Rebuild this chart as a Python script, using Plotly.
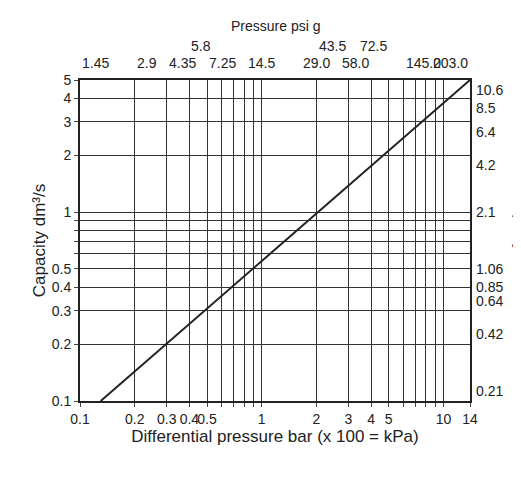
import math
import plotly.graph_objects as go

line_x = [0.13, 14]
line_y = [0.1, 5]
x_grid = [0.1,0.2,0.3,0.4,0.5,0.6,0.7,0.8,0.9,1,2,3,4,5,6,7,8,9,10,14]
x_labels = {0.1:"0.1",0.2:"0.2",0.3:"0.3",0.4:"0.4",0.5:"0.5",1:"1",2:"2",3:"3",4:"4",5:"5",10:"10",14:"14"}
y_grid = [0.1,0.2,0.3,0.4,0.5,0.6,0.7,0.8,0.9,1,2,3,4,5]
y_labels = {0.1:"0.1",0.2:"0.2",0.3:"0.3",0.4:"0.4",0.5:"0.5",1:"1",2:"2",3:"3",4:"4",5:"5"}
top_x = [0.1,0.2,0.3,0.4,0.5,1,2,3,4,5,10,14]
top_text = ["1.45","2.9","4.35","5.8","7.25","14.5","29.0","43.5","58.0","72.5","145.0","203.0"]
top_raised = [False,False,False,True,False,False,False,True,False,True,False,False]
right_y = [5,4,3,2,1,0.5,0.4,0.3,0.2,0.1]
right_text = ["10.6","8.5","6.4","4.2","2.1","1.06","0.85","0.64","0.42","0.21"]

XR = [-1, math.log10(14)]
YR = [-1, math.log10(5)]
font = dict(family="Liberation Sans, Arial", size=14, color="#222")
fig = go.Figure()
fig.add_trace(go.Scatter(x=line_x, y=line_y, mode="lines", line=dict(color="#222", width=2), showlegend=False))
fig.update_xaxes(type="log", range=XR, tickvals=x_grid, tickangle=0, automargin=False,
                 ticktext=[x_labels.get(v, "") for v in x_grid],
                 showgrid=True, gridcolor="#333", gridwidth=1, ticks="outside", ticklen=4,
                 showline=True, linecolor="#222", linewidth=2, mirror=True,
                 title=dict(text="Differential pressure bar (x 100 = kPa)", standoff=2), tickfont=font)
fig.update_yaxes(type="log", range=YR, tickvals=y_grid, automargin=False,
                 ticktext=[y_labels.get(v, "") for v in y_grid],
                 showgrid=True, gridcolor="#333", gridwidth=1, ticks="outside", ticklen=4,
                 showline=True, linecolor="#222", linewidth=2, mirror=True,
                 title=dict(text="Capacity dm³/s", standoff=2), tickfont=font)
ann = []
for x, t, r in zip(top_x, top_text, top_raised):
    px = (math.log10(x) - XR[0]) / (XR[1] - XR[0])
    ann.append(dict(x=px, y=1, xref="paper", yref="paper", text=t,
                    showarrow=False, yanchor="bottom", yshift=24 if r else 7, font=font))
for y, t in zip(right_y, right_text):
    py = (math.log10(y) - YR[0]) / (YR[1] - YR[0])
    ann.append(dict(x=1, y=py, xref="paper", yref="paper", text=t,
                    showarrow=False, xanchor="left", xshift=4, font=font))
ann.append(dict(x=0.5, y=1, xref="paper", yref="paper", text="Pressure psi g", showarrow=False,
                yanchor="bottom", yshift=44, font=font))
ann.append(dict(x=1, y=0.5, xref="paper", yref="paper", text="Capacity scfm", showarrow=False,
                textangle=90, xanchor="left", xshift=40, font=font))
fig.update_layout(width=521, height=483, margin=dict(l=72, r=59, t=72, b=90),
                  plot_bgcolor="white", paper_bgcolor="white", font=font, annotations=ann)
fig.write_html("out.html")
